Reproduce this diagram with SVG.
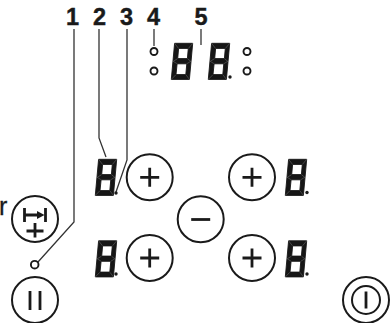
<svg xmlns="http://www.w3.org/2000/svg" width="390" height="323" viewBox="0 0 390 323">
<style>
.lab{font-family:"Liberation Sans",Arial,sans-serif;font-weight:700;font-size:23.500px;fill:#1a1a1a;stroke:#1a1a1a;stroke-width:.4;text-anchor:middle}
.r{font-family:"Liberation Sans",Arial,sans-serif;font-size:25px;fill:#1a1a1a;stroke:#1a1a1a;stroke-width:.3}
.btn{fill:#fff;stroke:#1a1a1a;stroke-width:2}
.sym{fill:none;stroke:#1a1a1a;stroke-width:2.8}
.lead{fill:none;stroke:#333;stroke-width:1.3}
.led{fill:#fff;stroke:#1a1a1a;stroke-width:1.9}
.seg{fill:#161616;fill-rule:evenodd;stroke:#161616;stroke-width:.9;stroke-linejoin:round}
.sep{fill:none;stroke:#8a8a8a;stroke-width:.4}
</style>
<defs>
<g id="digit">
<path class="seg" d="M3.600 .3H21.700L18.400 36.400H.3ZM7.600 5.400 6.700 15.600H16.400L17.300 5.400ZM6.100 20.800 5 31.600H14.800L15.800 20.800Z"/>
<path class="sep" d="M3.600 .3 7.400 5.200M21.700 .3 17.600 5.200M.3 36.400 4.800 31.800M18.400 36.400 15 31.800M6.400 15.800 2.200 18.300M5.900 20.600 2.200 18.300M16.600 15.800 19.800 18.300M16 20.600 19.800 18.300"/>
</g>
</defs>
<g id="connectors">
<polyline class="lead" points="74,29 74,222 38,262"/>
<polyline class="lead" points="99,29 99,138 106,157"/>
<polyline class="lead" points="127,29 127,160 116,192"/>
<line class="lead" x1="154" y1="29" x2="154" y2="46"/>
<line class="lead" x1="201" y1="29" x2="201" y2="45"/>
</g>
<g id="label-1"><text class="lab" x="72.500" y="25">1</text></g>
<g id="label-2"><text class="lab" x="99.500" y="25">2</text></g>
<g id="label-3"><text class="lab" x="126.500" y="25">3</text></g>
<g id="label-4"><text class="lab" x="153.500" y="25">4</text></g>
<g id="label-5"><text class="lab" x="201" y="25">5</text></g>
<g id="label-r"><text class="r" x="-1" y="215">r</text></g>
<g id="led-1"><circle class="led" cx="154" cy="51.500" r="3.500"/></g>
<g id="led-2"><circle class="led" cx="154" cy="71" r="3.500"/></g>
<g id="led-3"><circle class="led" cx="247" cy="51.500" r="3.500"/></g>
<g id="led-4"><circle class="led" cx="247" cy="71" r="3.500"/></g>
<g id="led-5"><circle class="led" cx="34.700" cy="264.700" r="3.800"/></g>
<g id="display-a"><use href="#digit" x="171" y="43"/></g>
<g id="display-b"><use href="#digit" x="208" y="43"/><circle cx="230" cy="77" r="1.700" fill="#1a1a1a"/></g>
<g id="display-c"><use href="#digit" x="95" y="159"/><circle cx="116" cy="193" r="1.700" fill="#1a1a1a"/></g>
<g id="display-d"><use href="#digit" x="95" y="240.500"/><circle cx="116" cy="274" r="1.700" fill="#1a1a1a"/></g>
<g id="display-e"><use href="#digit" x="285" y="159"/><circle cx="307" cy="192.500" r="1.700" fill="#1a1a1a"/></g>
<g id="display-f"><use href="#digit" x="285" y="240.500"/><circle cx="307" cy="274" r="1.700" fill="#1a1a1a"/></g>
<g id="plus-1"><circle class="btn" cx="149.700" cy="177.300" r="23"/><path class="sym" d="M140.200 177.300h19M149.700 167.800v19"/></g>
<g id="plus-2"><circle class="btn" cx="149.700" cy="258" r="23"/><path class="sym" d="M140.200 258h19M149.700 248.500v19"/></g>
<g id="plus-3"><circle class="btn" cx="252" cy="177.300" r="23"/><path class="sym" d="M242.500 177.300h19M252 167.800v19"/></g>
<g id="plus-4"><circle class="btn" cx="252" cy="258" r="23"/><path class="sym" d="M242.500 258h19M252 248.500v19"/></g>
<g id="minus"><circle class="btn" cx="200.700" cy="219.300" r="23"/><path class="sym" d="M191.200 219.500h19"/></g>
<g id="timer"><circle class="btn" cx="35" cy="219" r="23"/><path class="sym" d="M24.500 208v14M45.500 208v14M25 215h14M26.500 231h17M35 223v14.500"/><polygon points="37,211 44.500,215 37,219" fill="#1a1a1a"/></g>
<g id="pause"><circle class="btn" cx="35" cy="300" r="23"/><path class="sym" d="M30 291v19M40 291v19"/></g>
<g id="power"><circle class="btn" cx="366" cy="300" r="23"/><circle class="btn" cx="366" cy="300" r="14"/><path class="sym" d="M366 291.500v17"/></g>
</svg>
